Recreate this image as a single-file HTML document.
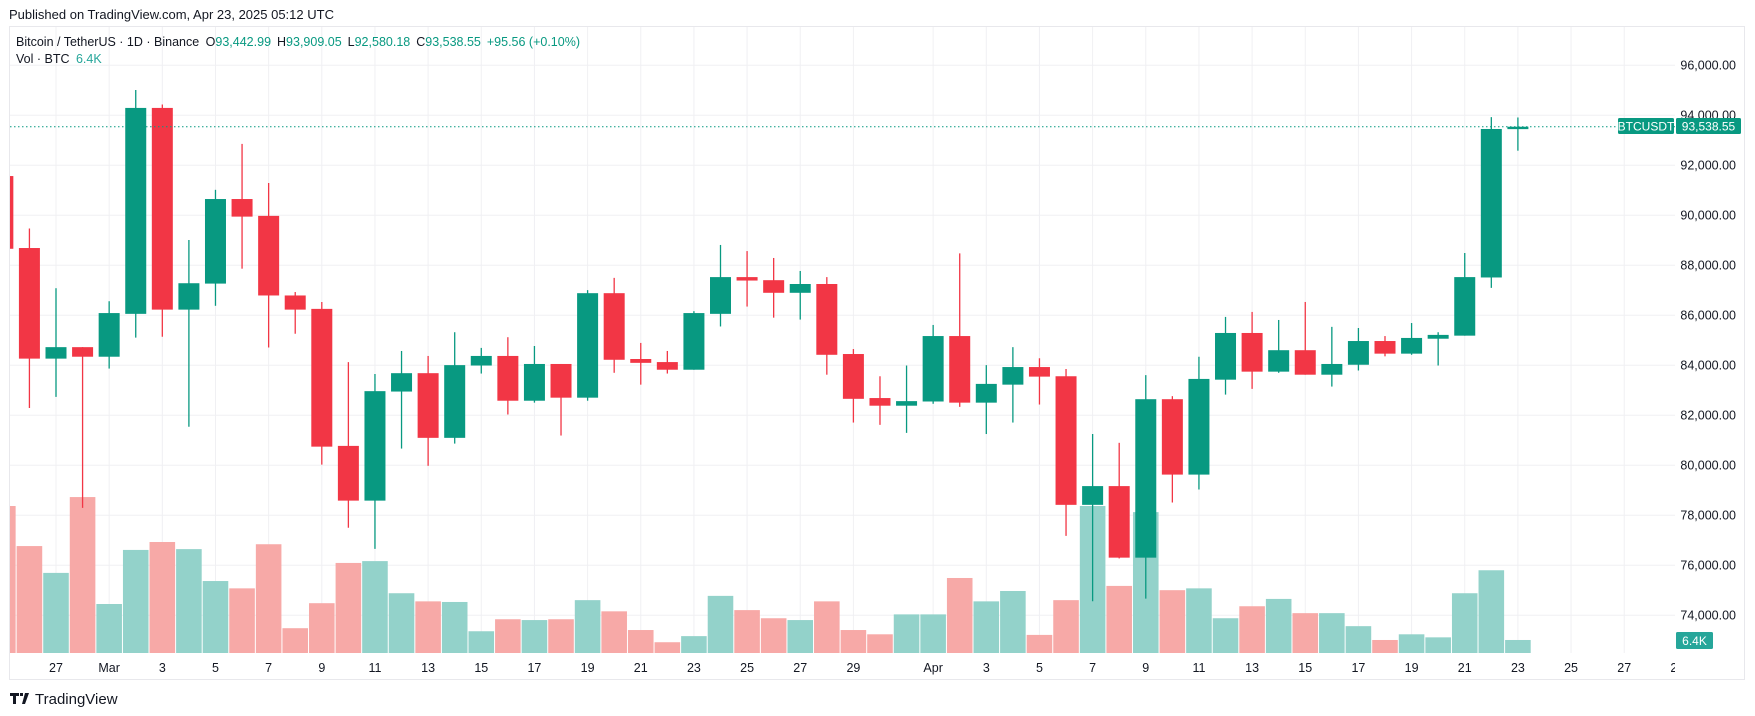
<!DOCTYPE html>
<html><head><meta charset="utf-8"><style>
body{margin:0;background:#fff;width:1755px;height:716px;overflow:hidden;font-family:"Liberation Sans",sans-serif;}
svg{display:block}
</style></head><body>
<svg id="chart" width="1755" height="716" viewBox="0 0 1755 716" xmlns="http://www.w3.org/2000/svg" font-family="Liberation Sans, sans-serif">
<defs><clipPath id="plotclip"><rect x="10" y="27" width="1665" height="626"/></clipPath><clipPath id="xclip"><rect x="0" y="655" width="1675" height="25"/></clipPath></defs>
<text x="9" y="19" font-size="13" fill="#131722">Published on TradingView.com, Apr 23, 2025 05:12 UTC</text>
<rect x="9.5" y="26.5" width="1735" height="653" fill="#fff" stroke="#e8e8ec"/>
<g id="grid"></g>
<g id="vols" clip-path="url(#plotclip)"></g>
<g id="candles" clip-path="url(#plotclip)"></g>
<line id="pline" x1="10" x2="1675" stroke="#089981" stroke-dasharray="1.5 2.5" stroke-width="1"/>
<g id="axes"></g>
<g font-size="12.5">
<text x="16" y="46" fill="#131722">Bitcoin / TetherUS · 1D · Binance <tspan dx="3">O</tspan><tspan fill="#089981">93,442.99</tspan><tspan dx="6">H</tspan><tspan fill="#089981">93,909.05</tspan><tspan dx="6">L</tspan><tspan fill="#089981">92,580.18</tspan><tspan dx="6">C</tspan><tspan fill="#089981">93,538.55</tspan><tspan dx="6" fill="#089981">+95.56 (+0.10%)</tspan></text>
<text x="16" y="63" fill="#131722">Vol · BTC <tspan dx="3" fill="#26a69a">6.4K</tspan></text>
</g>
<g>
<rect x="1618" y="118" width="56" height="16" rx="1.5" fill="#089981"/>
<text x="1646" y="130.5" font-size="12" fill="#fff" text-anchor="middle">BTCUSDT</text>
<rect x="1676" y="118" width="65" height="16" rx="1.5" fill="#089981"/>
<text x="1708.5" y="130.5" font-size="12" fill="#fff" text-anchor="middle">93,538.55</text>
</g>
<g>
<rect x="1676" y="632" width="37" height="17" rx="1.5" fill="#26a69a"/>
<text x="1694.5" y="645" font-size="12" fill="#fff" text-anchor="middle">6.4K</text>
</g>
<g>
<path d="M10 693h9v3h-3v8h-3v-8h-3z M20 693h3v3h-3z M25 693h4l-4 11h-3z" fill="#131722"/>
<text x="35" y="704" font-size="15" fill="#131722">TradingView</text>
</g>
</svg>
<script>
const dates=["Feb 25","Feb 26","27","28","Mar","2","3","4","5","6","7","8","9","10","11","12","13","14","15","16","17","18","19","20","21","22","23","24","25","26","27","28","29","30","31","Apr","2","3","4","5","6","7","8","9","10","11","12","13","14","15","16","17","18","19","20","21","22","23"];
const opens=[91566,88687,84263,84722,84339,86054,94291,86223,87264,90647,89973,86789,86253,80772,78583,82946,83681,81094,83987,84370,82579,84049,82701,86881,84248,84125,83819,86054,87524,87401,86896,87248,84447,82686,82380,82548,85166,82502,83222,83926,83558,78414,79164,76302,82640,79624,83421,85289,83742,84600,83620,84018,84967,84462,85059,85182,87509,93443];
const highs=[92000,89468,87080,84722,86559,95010,94429,89009,91015,92852,91290,86927,86529,84125,83650,84569,84370,85319,84692,85120,84768,84049,87003,87493,84891,84569,86161,88810,88565,88289,87769,87524,84646,83558,83987,85610,88473,84003,84722,84278,83849,81247,80895,83605,82762,84339,85932,86131,85809,86529,85534,85488,85166,85687,85319,88488,93923,93909];
const lows=[88400,82288,82732,78292,83865,85105,85136,81538,86376,87861,84707,85258,80022,77496,76654,80665,79976,80864,83666,82028,82502,81186,82579,83696,83222,83666,83819,85549,86345,85901,85825,83620,81706,81614,81293,82456,82334,81247,81706,82426,77174,74556,76271,74664,78507,79027,82824,83053,83696,83620,83145,83788,84355,84416,83987,85182,87095,92580];
const closes=[88657,84263,84722,84339,86085,94291,86223,87279,90647,89943,86789,86223,80742,78583,82962,83681,81094,84003,84370,82579,84049,82701,86881,84217,84094,83819,86085,87524,87386,86896,87248,84416,82655,82380,82563,85166,82502,83252,83926,83543,78414,79164,76302,82640,79624,83451,85289,83742,84600,83620,84049,84967,84462,85090,85212,87524,93449,93538.55];
const volumes=[72.3,52.6,39.4,76.7,24.1,50.7,54.6,51.1,35.4,31.8,53.5,12.2,24.5,44.3,45.2,29.4,25.4,25.1,10.7,16.6,16.2,16.6,26.0,20.5,11.3,5.3,8.3,28.1,21.1,17.1,16.2,25.4,11.3,9.2,19.0,19.0,36.9,25.4,30.5,8.9,26.0,72.3,33.0,69.3,30.9,31.8,17.1,23.0,26.6,19.6,19.6,13.2,6.4,9.2,7.7,29.4,40.7,6.4];
const priceTicks=[74000,76000,78000,80000,82000,84000,86000,88000,90000,92000,94000,96000];
const xTickIdx=[2,4,6,8,10,12,14,16,18,20,22,24,26,28,30,32,35,37,39,41,43,45,47,49,51,53,55,57,59,61,63];
const xTickLabels=["27","Mar","3","5","7","9","11","13","15","17","19","21","23","25","27","29","Apr","3","5","7","9","11","13","15","17","19","21","23","25","27","29"];
const lastPrice=93538.55;

const NS="http://www.w3.org/2000/svg";
const step=26.58, x0=56-2*step;
function X(i){return x0+i*step;}
function Y(p){return 115.2+(94000-p)*0.025;}
function V(v){return 653-v*2.033;}
function mk(tag,attrs,parent){const e=document.createElementNS(NS,tag);for(const k in attrs)e.setAttribute(k,attrs[k]);parent.appendChild(e);return e;}
const grid=document.getElementById('grid'),axes=document.getElementById('axes'),vols=document.getElementById('vols'),cg=document.getElementById('candles');
priceTicks.forEach(p=>{
  const l=mk('line',{x1:10,x2:1675,y1:Y(p),y2:Y(p),stroke:'#f0f0f3'},grid);
  
  
  const t=mk('text',{x:1736,y:Y(p)+4.5,'font-size':12.5,fill:'#131722','text-anchor':'end'},axes);
  
  
  t.textContent=p.toLocaleString('en-US',{minimumFractionDigits:2});
});
xTickIdx.forEach((i,k)=>{
  const x=X(i);
  if(x<1675){
    const l=mk('line',{x1:x,x2:x,y1:27,y2:653,stroke:'#f0f0f3'},grid);
    
    
  }
  const t=mk('text',{x:x,y:672,'font-size':12.5,fill:'#131722','text-anchor':'middle','clip-path':'url(#xclip)'},axes);
  
  
  t.textContent=xTickLabels[k];
});
dates.forEach((d,i)=>{
  const up=closes[i]>=opens[i];
  const x=X(i);
  const vb=mk('rect',{x:x-step/2+0.5,y:V(volumes[i]),width:step-1,height:volumes[i]*2.033,fill:up?'#93d2ca':'#f7a9a7'},vols);
  
  
  const col=up?'#089981':'#f23645';
  const w=mk('line',{x1:x,x2:x,y1:Y(highs[i]),y2:Y(lows[i]),stroke:col,'stroke-width':1.3},cg);
  
  
  const top=Y(Math.max(opens[i],closes[i])),bot=Y(Math.min(opens[i],closes[i]));
  const b=mk('rect',{x:x-10.5,y:top,width:21,height:Math.max(bot-top,1.5),fill:col},cg);
  
  
});
const pl=document.getElementById('pline');pl.setAttribute('y1',Y(lastPrice));pl.setAttribute('y2',Y(lastPrice));
</script>
</body></html>
